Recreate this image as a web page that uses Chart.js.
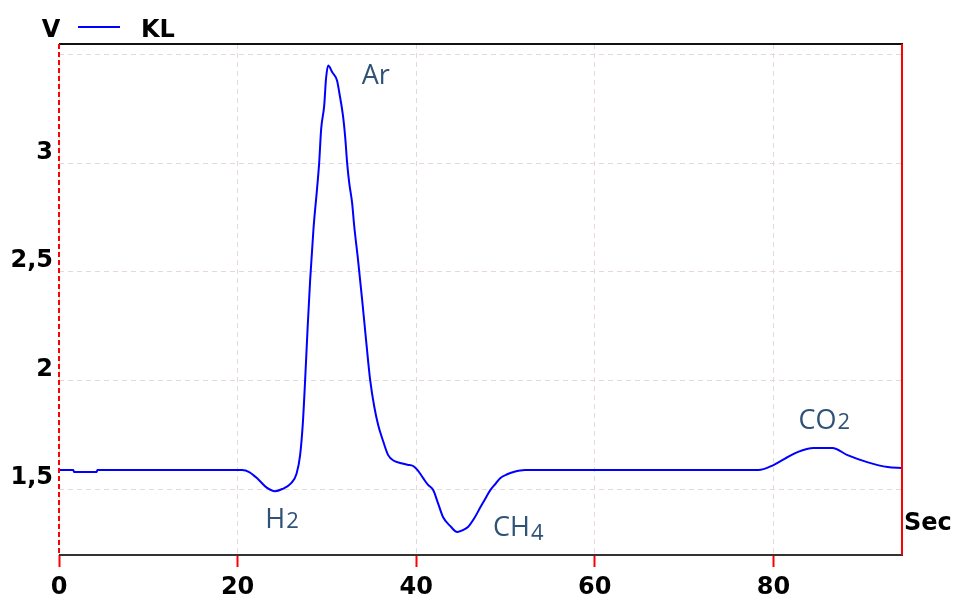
<!DOCTYPE html>
<html>
<head>
<meta charset="utf-8">
<script src="https://cdn.jsdelivr.net/npm/chart.js@4"></script>
<style>
  body { margin: 0; background: #fff; }
</style>
</head>
<body>
<canvas id="myChart" width="955" height="603"></canvas>
<script>
var ctx = document.getElementById('myChart').getContext('2d');

// time in seconds and detector signal in volts
let secs = [0, 1.6, 1.7, 4.2, 4.3, 20.5, 21.3, 22.3, 23.3, 24.2, 25.0, 26.0, 26.6, 27.0, 27.3,
  27.56, 27.85, 28.12, 28.5, 28.9, 29.13, 29.36, 29.7, 29.9, 30.14, 30.6, 31.15, 31.37, 31.8,
  32.05, 32.27, 32.5, 32.83, 33.05, 33.5, 33.95, 34.4, 34.85, 35.3, 35.74, 36.3, 36.86, 37.5,
  38.2, 39.0, 39.66, 40.2, 40.78, 41.3, 41.9, 42.4, 43.0, 43.8, 44.6, 45.2, 45.8, 46.5, 47.2,
  47.8, 48.3, 48.9, 49.4, 50.2, 50.9, 52.2, 78.3, 80.0, 81.3, 82.7, 84.5, 86.6, 88.3, 90.5,
  92.8, 94.4];
let volts = [1.587, 1.587, 1.578, 1.578, 1.587, 1.587, 1.578, 1.545, 1.505, 1.49, 1.50, 1.527, 1.57, 1.656, 1.80,
  2.0, 2.25, 2.46, 2.70, 2.885, 3.0, 3.16, 3.267, 3.39, 3.451, 3.42, 3.38, 3.33, 3.22,
  3.12, 3.0, 2.91, 2.816, 2.715, 2.55, 2.37, 2.18, 2.0, 1.88, 1.795, 1.72, 1.656, 1.63,
  1.62, 1.612, 1.606, 1.585, 1.55, 1.52, 1.495, 1.44, 1.371, 1.33, 1.302, 1.31, 1.325, 1.365, 1.417,
  1.46, 1.495, 1.525, 1.55, 1.568, 1.578, 1.587, 1.587, 1.61, 1.64, 1.67, 1.689, 1.689, 1.656, 1.624,
  1.601, 1.597];

let xTicks = [0, 20, 40, 60, 80];
let yTicks = [1.5, 2, 2.5, 3, 3.5];
let yLabels = ['1,5', '2', '2,5', '3', ''];

// peak names: text, subscript digit, where (sec, volt) the name sits
let peaks = [
  {name: 'Ar', sub: '', t: 33.9, v: 3.368},
  {name: 'H', sub: '2', t: 23.1, v: 1.32},
  {name: 'CH', sub: '4', t: 48.6, v: 1.284},
  {name: 'CO', sub: '2', t: 82.8, v: 1.776}
];

let tickFont = {family: 'DejaVu Sans', size: 24, weight: 'bold'};

let frame = {
  id: 'frame',
  afterDraw: (chart) => {
    const c = chart.ctx;
    const a = chart.chartArea;
    c.save();
    c.lineWidth = 2;
    c.strokeStyle = '#111';
    c.beginPath(); c.moveTo(a.left, a.top); c.lineTo(a.right + 1, a.top); c.stroke();
    c.strokeStyle = '#333';
    c.beginPath(); c.moveTo(a.left, a.bottom); c.lineTo(a.right + 1, a.bottom); c.stroke();
    c.strokeStyle = '#ff0000';
    c.beginPath(); c.moveTo(a.right, a.top); c.lineTo(a.right, a.bottom); c.stroke();
    c.setLineDash([5, 3]);
    c.beginPath(); c.moveTo(a.left, a.top); c.lineTo(a.left, a.bottom); c.stroke();
    c.setLineDash([]);

    // axis names and legend
    c.fillStyle = '#000';
    c.font = 'bold 24px "DejaVu Sans"';
    c.textBaseline = 'alphabetic';
    c.textAlign = 'center';
    c.fillText('V', 51, 37);
    c.textAlign = 'left';
    c.fillText('KL', 141, 37);
    c.fillText('Sec', 904, 530);
    c.strokeStyle = '#0000ff';
    c.beginPath(); c.moveTo(78, 27); c.lineTo(120, 27); c.stroke();

    // peak names
    const xs = chart.scales.x, ys = chart.scales.y;
    c.fillStyle = '#2f5377';
    peaks.forEach((p) => {
      const px = xs.getPixelForValue(p.t), py = ys.getPixelForValue(p.v);
      c.font = '27px "Open Sans"';
      c.fillText(p.name, px, py);
      if (p.sub) {
        const w = c.measureText(p.name).width;
        c.font = '22px "Open Sans"';
        c.fillText(p.sub, px + w + 1, py + (p.sub === '4' ? 4 : 0));
      }
    });
    c.restore();
  }
};

new Chart(ctx, {
  type: 'line',
  data: {
    datasets: [{
      label: 'KL',
      data: secs.map((s, i) => ({x: s, y: volts[i]})),
      borderColor: '#0000ff',
      borderWidth: 2,
      pointRadius: 0,
      fill: false,
      cubicInterpolationMode: 'monotone'
    }]
  },
  options: {
    responsive: false,
    animation: false,
    layout: {padding: {top: 44, right: 53, left: 0, bottom: 0}},
    plugins: {legend: {display: false}, tooltip: {enabled: false}},
    scales: {
      x: {
        type: 'linear',
        min: 0,
        max: 94.4,
        afterFit: (s) => { s.height = 48; },
        afterBuildTicks: (s) => { s.ticks = xTicks.map((v) => ({value: v})); },
        ticks: {font: tickFont, color: '#000', padding: 6, maxRotation: 0, includeBounds: false},
        grid: {color: '#e6d8d8', tickColor: '#ff0000', tickLength: 12, tickWidth: 2, tickBorderDash: []},
        border: {display: false, dash: [5, 4]}
      },
      y: {
        type: 'linear',
        min: 1.196,
        max: 3.55,
        afterFit: (s) => { s.width = 59; },
        afterBuildTicks: (s) => { s.ticks = yTicks.map((v) => ({value: v})); },
        ticks: {
          font: tickFont, color: '#000', padding: 6, labelOffset: -11, includeBounds: false,
          callback: (v) => yLabels[yTicks.indexOf(v)]
        },
        grid: {color: '#e6d8d8', drawTicks: false},
        border: {display: false, dash: [5, 4]}
      }
    }
  },
  plugins: [frame]
});
</script>
</body>
</html>
